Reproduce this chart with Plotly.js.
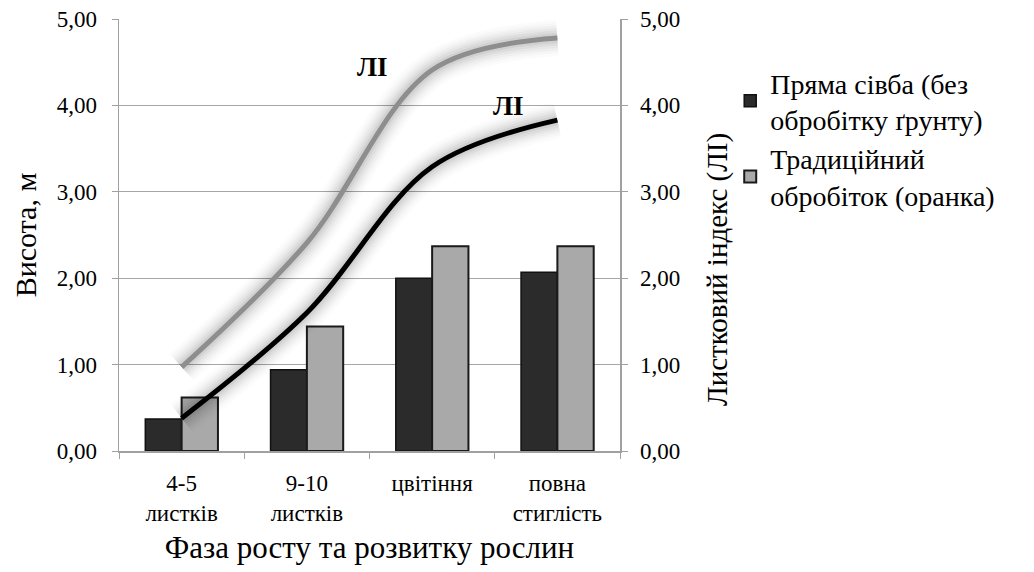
<!DOCTYPE html>
<html>
<head>
<meta charset="utf-8">
<script src="https://cdn.plot.ly/plotly-3.0.1.min.js"></script>
<style>html,body{margin:0;padding:0;background:#fff;}#chart{width:1034px;height:572px;}</style>
</head>
<body>
<div id="chart"></div>
<script>
// Categories (growth phases)
var categories = ["4-5<br>листків", "9-10<br>листків", "цвітіння", "повна<br>стиглість"];
// Plant height, m (bars)
var heightDirect = [0.37, 0.94, 2.00, 2.07];
var heightTraditional = [0.62, 1.44, 2.37, 2.37];
// Leaf index (lines)
var leafDirect = [0.38, 1.60, 3.29, 3.83];
var leafTraditional = [0.97, 2.41, 4.41, 4.78];
// Series names
var nameDirect = "Пряма сівба (без<br>обробітку ґрунту)";
var nameTraditional = "Традиційний<br>обробіток (оранка)";
var yTicks = [0, 1, 2, 3, 4, 5];

var FONT = "'Liberation Serif', 'DejaVu Serif', serif";

var traces = [
  {type: "bar", x: categories, y: heightDirect, name: nameDirect,
   marker: {color: "#2b2b2b", line: {color: "#111111", width: 1.5}}},
  {type: "bar", x: categories, y: heightTraditional, name: nameTraditional,
   marker: {color: "#a9a9a9", line: {color: "#1a1a1a", width: 2}}}
];

function glow(y) {
  var out = [];
  [[36, 0.016], [30, 0.02], [25, 0.026], [20, 0.033], [15, 0.042], [10, 0.05]].forEach(function (g) {
    out.push({type: "scatter", mode: "lines", x: categories, y: y, yaxis: "y2",
      line: {shape: "spline", smoothing: 1, width: g[0], color: "rgba(0,0,0," + g[1] + ")"},
      showlegend: false, hoverinfo: "skip"});
  });
  return out;
}
traces = traces.concat(glow(leafTraditional), glow(leafDirect));
traces.push({type: "scatter", mode: "lines", x: categories, y: leafTraditional, yaxis: "y2",
  line: {shape: "spline", smoothing: 1, width: 5, color: "#8e8e8e"}, showlegend: false, name: "ЛІ"});
traces.push({type: "scatter", mode: "lines", x: categories, y: leafDirect, yaxis: "y2",
  line: {shape: "spline", smoothing: 1, width: 5, color: "#000000"}, showlegend: false, name: "ЛІ"});

var layout = {
  width: 1034, height: 572,
  margin: {l: 119, r: 414, t: 19, b: 121, pad: 0},
  paper_bgcolor: "#ffffff", plot_bgcolor: "#ffffff",
  separators: ", ",
  font: {family: FONT, size: 23, color: "#000"},
  barmode: "group", bargap: 0.42, bargroupgap: 0,
  showlegend: true,
  legend: {x: 1.22, xanchor: "left", y: 0.91, yanchor: "top",
    font: {family: FONT, size: 28, color: "#000"}, tracegroupgap: 4,
    itemwidth: 30, bgcolor: "rgba(0,0,0,0)"},
  xaxis: {type: "category", range: [-0.5, 3.5], showgrid: false, showline: true,
    linecolor: "#a0a0a0", linewidth: 1.5, ticks: "outside", tickson: "boundaries",
    ticklen: 6, tickcolor: "#a0a0a0", tickfont: {family: FONT, size: 23}, ticklabelstandoff: 11,
    title: {text: "Фаза росту та розвитку рослин", font: {family: FONT, size: 31}, standoff: 11},
    fixedrange: true},
  yaxis: {range: [0, 5], tickvals: yTicks, tickformat: ".2f", showgrid: true, gridcolor: "#a6a6a6",
    gridwidth: 1.2, showline: true, linecolor: "#a0a0a0", linewidth: 1.5, ticks: "outside",
    ticklen: 6, tickcolor: "#a0a0a0", tickfont: {family: FONT, size: 23}, ticklabelstandoff: 10,
    zeroline: false,
    title: {text: "Висота, м", font: {family: FONT, size: 30}, standoff: 11}},
  yaxis2: {range: [0, 5], tickvals: yTicks, tickformat: ".2f", overlaying: "y", side: "right",
    showgrid: false, showline: true, linecolor: "#a0a0a0", linewidth: 1.5, ticks: "outside",
    ticklen: 6, tickcolor: "#a0a0a0", tickfont: {family: FONT, size: 23}, ticklabelstandoff: 8,
    zeroline: false},
  annotations: [
    {x: 0, y: 0, xref: "paper", yref: "paper", xanchor: "center", yanchor: "middle",
     text: "Листковий індекс (ЛІ)", textangle: -90,
     showarrow: false, font: {family: FONT, size: 29, color: "#000"}},
    {x: 1.52, y: 4.44, xref: "x", yref: "y", text: "<b>ЛІ</b>", showarrow: false,
     font: {family: FONT, size: 27, color: "#000"}},
    {x: 2.61, y: 3.99, xref: "x", yref: "y", text: "<b>ЛІ</b>", showarrow: false,
     font: {family: FONT, size: 27, color: "#000"}}
  ]
};
// place right-axis title (centre at pixel 717, 270) in paper coords
layout.annotations[0].x = (717 - 119) / (1034 - 119 - 414);
layout.annotations[0].y = (451 - 270) / (451 - 19);

Plotly.newPlot("chart", traces, layout, {displayModeBar: false, staticPlot: true});
</script>
</body>
</html>
